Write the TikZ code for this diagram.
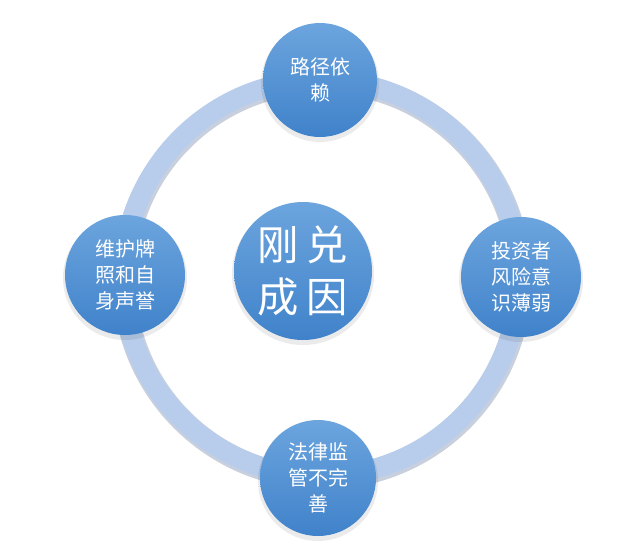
\documentclass[tikz,border=0pt]{standalone}
\usepackage{fontspec}
\newfontfamily\cjk{Noto Sans CJK SC}
\usepackage{tikz}

\definecolor{ringblue}{RGB}{184,204,235}
\definecolor{ringedge}{RGB}{200,208,222}
\definecolor{balltop}{RGB}{108,165,222}
\definecolor{ballbottom}{RGB}{64,130,202}

\tikzset{
  ball/.style = {circle, inner sep = 0pt, shading = axis, top color = balltop, bottom color = ballbottom,
    text = white, align = center, font = \cjk\fontsize{15}{19.5}\selectfont},
  bigball/.style = {ball, font = \cjk\fontsize{31}{39}\selectfont},
  ballshadow/.style = {fill = black, opacity = 0.08}
}

\begin{document}
\begin{tikzpicture}[x = 0.75pt, y = -0.75pt]

\useasboundingbox (0, 0) rectangle (640, 558);

% ring
\coordinate (hub) at (321, 278);
\draw[ringedge, line width = 23*0.75pt] (hub) ++(1, 2) circle (198);
\draw[ringblue, line width = 20*0.75pt] (hub) circle (198);

% shadows
\foreach \cx/\cy/\r in {320/80/57, 521/277/60, 318/478/58, 125/275/60, 303/271/69} {
  \fill[ballshadow] (\cx, \cy + 3) circle (\r + 2);
}

% outer circles
\node[ball, minimum size = 114*0.75pt] (path) at (320, 80) {路径依\\赖};
\node[ball, minimum size = 120*0.75pt] (investor) at (521, 277) {投资者\\风险意\\识薄弱};
\node[ball, minimum size = 116*0.75pt] (law) at (318, 478) {法律监\\管不完\\善};
\node[ball, minimum size = 120*0.75pt] (brand) at (125, 275) {维护牌\\照和自\\身声誉};

% center
\node[bigball, minimum size = 138*0.75pt] (cause) at (303, 271) {刚\kern6pt 兑\\成\kern6pt 因};

\end{tikzpicture}
\end{document}
